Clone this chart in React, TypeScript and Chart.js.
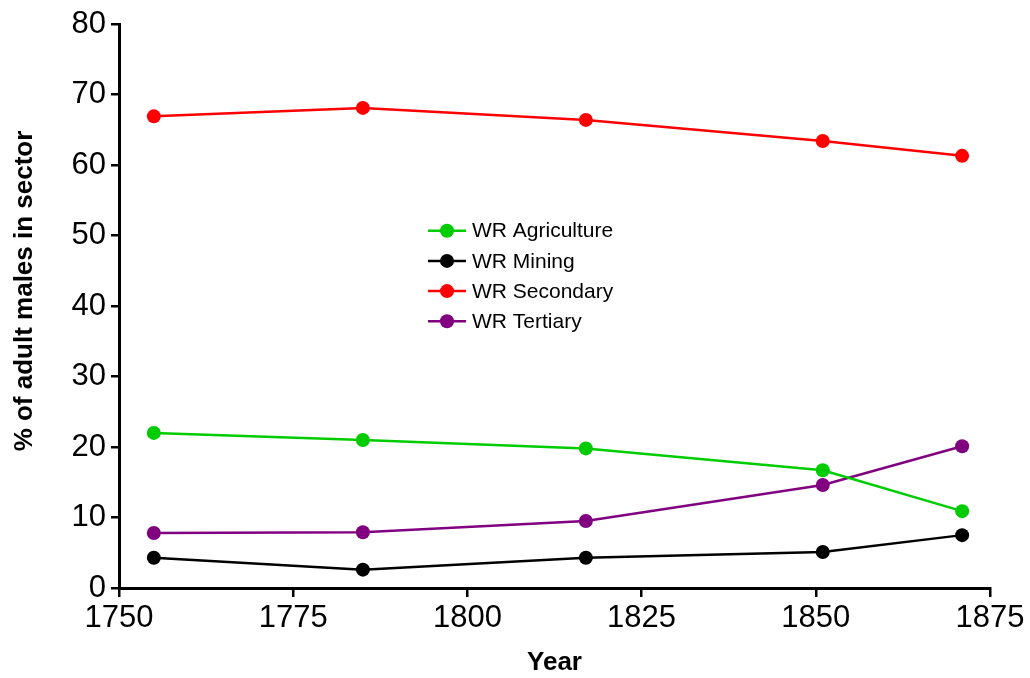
import React, { useEffect, useRef } from "react";
import { Chart, registerables } from "chart.js";

Chart.register(...registerables);

const years = [1755, 1785, 1817, 1851, 1871];
const agriculture = [22.0, 21.0, 19.8, 16.7, 10.9];
const mining = [4.3, 2.6, 4.3, 5.1, 7.5];
const secondary = [66.9, 68.1, 66.4, 63.4, 61.3];
const tertiary = [7.8, 7.9, 9.5, 14.6, 20.1];

const seriesNames = ["WR Agriculture", "WR Mining", "WR Secondary", "WR Tertiary"];
const seriesColors = ["#00CC00", "#000000", "#FF0000", "#800080"];
const seriesValues = [agriculture, mining, secondary, tertiary];

const xTitle = "Year";
const yTitle = "% of adult males in sector";
const FONT = "Arial, 'Liberation Sans', sans-serif";

const overlayPlugin = {
  id: "overlay",
  afterDraw(chart: any) {
    const ctx = chart.ctx;
    ctx.save();
    // Legend
    const x0 = 428;
    const x1 = 466;
    const xm = 447;
    const tx = 472;
    const y0 = 230.7;
    const dy = 30.2;
    ctx.font = `21px ${FONT}`;
    ctx.textBaseline = "middle";
    ctx.textAlign = "left";
    seriesNames.forEach((name, i) => {
      const y = y0 + i * dy;
      ctx.strokeStyle = seriesColors[i];
      ctx.lineWidth = 2.5;
      ctx.beginPath();
      ctx.moveTo(x0, y);
      ctx.lineTo(x1, y);
      ctx.stroke();
      ctx.fillStyle = seriesColors[i];
      ctx.beginPath();
      ctx.arc(xm, y, 7, 0, Math.PI * 2);
      ctx.fill();
      ctx.fillStyle = "#000";
      ctx.fillText(name, tx, y + 1);
    });
    // Y title
    ctx.translate(25, 291);
    ctx.rotate(-Math.PI / 2);
    ctx.font = `bold 26px ${FONT}`;
    ctx.textAlign = "center";
    ctx.textBaseline = "middle";
    ctx.fillStyle = "#000";
    ctx.fillText(yTitle, 0, 0);
    ctx.restore();
  },
};

export default function App() {
  const ref = useRef<HTMLCanvasElement | null>(null);
  useEffect(() => {
    if (!ref.current) return;
    const chart = new Chart(ref.current, {
      type: "line",
      data: {
        datasets: seriesNames.map((name, i) => ({
          label: name,
          data: years.map((yr, j) => ({ x: yr, y: seriesValues[i][j] })),
          borderColor: seriesColors[i],
          backgroundColor: seriesColors[i],
          borderWidth: 2.5,
          pointRadius: 7,
          pointBorderWidth: 0,
          pointHoverRadius: 7,
          tension: 0,
          fill: false,
        })),
      },
      options: {
        responsive: false,
        animation: false,
        devicePixelRatio: 1,
        layout: { padding: { top: 24, right: 40, bottom: 0, left: 0 } },
        plugins: { legend: { display: false }, tooltip: { enabled: false } },
        scales: {
          x: {
            type: "linear",
            min: 1750,
            max: 1875,
            afterFit: (s: any) => {
              s.height = 90;
            },
            ticks: {
              stepSize: 25,
              color: "#000",
              font: { family: FONT, size: 31 },
              padding: 3,
              maxRotation: 0,
              callback: (v: any) => String(v),
            },
            grid: {
              display: true,
              drawOnChartArea: false,
              drawTicks: true,
              tickLength: 9,
              color: "#000",
              lineWidth: 2.5,
            },
            border: { display: true, color: "#000", width: 3 },
            title: {
              display: true,
              text: xTitle,
              color: "#000",
              font: { family: FONT, size: 26, weight: "bold" },
              padding: { top: 0, bottom: 0 },
            },
          },
          y: {
            min: 0,
            max: 80,
            afterFit: (s: any) => {
              s.width = 119;
            },
            ticks: {
              stepSize: 10,
              color: "#000",
              font: { family: FONT, size: 31 },
              padding: 5,
            },
            grid: {
              display: true,
              drawOnChartArea: false,
              drawTicks: true,
              tickLength: 8,
              color: "#000",
              lineWidth: 2.5,
            },
            border: { display: true, color: "#000", width: 3 },
          },
        },
      },
      plugins: [overlayPlugin],
    } as any);
    return () => chart.destroy();
  }, []);
  return (
    <div style={{ position: "fixed", left: 0, top: 0, width: 1030, height: 678, background: "#fff" }}>
      <canvas ref={ref} width={1030} height={678} />
    </div>
  );
}
